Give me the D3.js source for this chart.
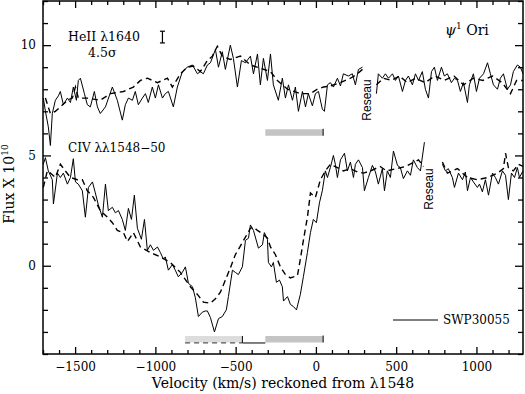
<!DOCTYPE html>
<html>
<head>
<meta charset="utf-8">
<script src="https://cdn.jsdelivr.net/npm/d3@7"></script>
<style>
  body { margin: 0; background: #fff; }
  svg { display: block; }
  .tick text { font-family: "DejaVu Serif", serif; font-size: 12px; fill: #000; }
  .lbl { font-family: "DejaVu Serif", serif; font-size: 12px; fill: #000; }
  .sans { font-family: "Liberation Sans", Arial, sans-serif; font-size: 12px; fill: #000; }
</style>
</head>
<body>
<div id="chart"></div>
<script>

// svg container
var width = 525
var height = 394

var margin = { top: 1, right: 2, bottom: 40, left: 43 };

var chartWidth = width - margin.left - margin.right;
var chartHeight = height - margin.top - margin.bottom;

// axis ranges and tick labels
var xDomain = [-1700, 1290];
var yDomain = [-4, 12];
var xMajor = [-1500, -1000, -500, 0, 500, 1000];
var yMajor = [0, 5, 10];

// spectra as [velocity km/s, flux], null = gap at the reseau mark
var heSolid = [
  [-1698, 7.6], [-1685, 7.0], [-1667, 6.3], [-1654, 5.45], [-1642, 6.9], [-1623, 7.5], [-1604, 7.7],
  [-1592, 7.9], [-1573, 7.3], [-1548, 7.6], [-1529, 7.4], [-1511, 8.1], [-1492, 7.5], [-1480, 8.4],
  [-1467, 8.5], [-1442, 7.8], [-1424, 7.3], [-1405, 7.2], [-1380, 7.9], [-1361, 7.2], [-1343, 6.9],
  [-1311, 7.2], [-1268, 8.1], [-1237, 7.5], [-1206, 6.6], [-1187, 7.3], [-1168, 7.6], [-1143, 7.5],
  [-1125, 7.9], [-1106, 7.3], [-1081, 7.6], [-1062, 7.8], [-1044, 7.4], [-1019, 8.1], [-1000, 7.6],
  [-981, 8.2], [-956, 7.6], [-938, 7.8], [-919, 7.9], [-888, 7.2], [-863, 8.1], [-832, 8.8],
  [-801, 9.0], [-769, 9.1], [-738, 8.7], [-720, 8.8], [-701, 8.7], [-676, 9.1], [-657, 9.2],
  [-626, 9.8], [-607, 9.0], [-583, 9.7], [-564, 8.9], [-533, 10.0], [-514, 9.4], [-489, 8.1],
  [-464, 9.3], [-439, 9.2], [-408, 9.5], [-389, 8.7], [-364, 9.6], [-346, 8.2], [-327, 9.4],
  [-302, 8.4], [-283, 9.6], [-265, 8.2], [-234, 7.5], [-209, 8.5], [-190, 7.6], [-171, 8.2],
  [-146, 7.5], [-128, 8.1], [-109, 7.0], [-84, 7.9], [-65, 7.2], [-47, 7.8], [-22, 7.25],
  [-3, 7.8], [16, 7.9], [40, 7.1], [53, 7.0], [72, 8.2], [90, 8.3], [109, 8.1], [134, 8.5],
  [153, 8.15], [171, 8.7], [202, 8.6], [227, 8.7], [246, 8.2], [265, 8.9], [290, 9.0],
  null,
  [377, 7.8], [389, 8.7], [414, 8.5], [433, 8.7], [452, 8.5], [477, 8.7], [495, 8.4], [514, 8.6],
  [539, 7.9], [558, 8.4], [576, 8.6], [601, 8.2], [620, 8.7], [639, 8.4], [663, 8.8], [682, 8.0],
  [701, 7.6], [720, 8.8], [738, 9.0], [757, 8.4], [782, 9.0], [800, 8.6], [819, 8.7], [844, 8.3],
  [863, 8.5], [882, 8.4], [900, 7.9], [919, 8.3], [944, 7.4], [956, 8.2], [981, 8.7], [1000, 7.9],
  [1019, 8.5], [1044, 8.7], [1069, 9.2], [1087, 8.7], [1106, 8.2], [1131, 8.0], [1149, 8.5],
  [1168, 8.7], [1193, 8.0], [1212, 8.2], [1230, 8.8], [1255, 9.1], [1274, 9.0], [1290, 8.7]
];

var heDashed = [
  [-1685, 7.6], [-1654, 6.9], [-1623, 7.0], [-1592, 7.2], [-1548, 7.5], [-1517, 7.6], [-1498, 8.1],
  [-1480, 7.6], [-1424, 7.6], [-1343, 7.5], [-1280, 7.8], [-1199, 7.9], [-1137, 8.1], [-1093, 8.4],
  [-1050, 8.5], [-987, 8.3], [-925, 8.5], [-894, 8.1], [-844, 8.7], [-801, 9.0], [-763, 9.05],
  [-720, 8.8], [-676, 9.3], [-645, 9.5], [-614, 9.95], [-583, 9.5], [-533, 9.35], [-470, 9.5],
  [-408, 9.1], [-283, 8.8], [-240, 8.4], [-177, 8.0], [-97, 7.8], [-34, 7.8], [9, 8.0], [47, 8.1],
  [90, 8.15], [153, 8.3], [215, 8.5], [259, 8.7], [290, 8.9],
  null,
  [377, 8.2], [420, 8.5], [470, 8.4], [520, 8.6], [570, 8.3], [620, 8.5], [680, 8.3], [740, 8.6],
  [800, 8.4], [860, 8.6], [920, 8.2], [980, 8.5], [1040, 8.4], [1100, 8.6], [1160, 8.3],
  [1212, 7.8], [1250, 8.4], [1290, 8.4]
];

var civSolid = [
  [-1698, 4.6], [-1685, 4.9], [-1667, 4.3], [-1642, 3.9], [-1635, 2.8], [-1610, 4.2], [-1592, 4.0],
  [-1573, 4.2], [-1548, 3.7], [-1529, 4.0], [-1511, 4.85], [-1498, 3.8], [-1480, 3.7], [-1455, 3.4],
  [-1436, 2.2], [-1417, 3.55], [-1392, 3.8], [-1374, 3.3], [-1355, 2.75], [-1330, 2.2], [-1311, 3.7],
  [-1293, 2.5], [-1268, 2.65], [-1249, 2.4], [-1230, 2.5], [-1206, 2.1], [-1187, 1.6], [-1168, 2.6],
  [-1149, 2.1], [-1131, 3.2], [-1112, 1.7], [-1087, 1.2], [-1068, 2.1], [-1050, 0.7], [-1031, 0.95],
  [-1012, 0.7], [-987, 0.85], [-969, 0.6], [-950, 0.3], [-938, 0.4], [-919, -0.2], [-894, 0.05],
  [-876, -0.2], [-857, -0.5], [-832, -0.3], [-813, -0.05], [-794, -0.8], [-769, -0.95], [-751, -1.45],
  [-732, -2.3], [-707, -2.1], [-688, -2.05], [-676, -2.05], [-657, -2.35], [-632, -3.0], [-607, -2.4],
  [-583, -2.3], [-558, -2.0], [-545, -1.4], [-520, -0.2], [-502, -0.3], [-483, -0.4], [-458, -0.05],
  [-439, 1.15], [-420, 1.25], [-408, 1.85], [-389, 1.6], [-358, 0.8], [-333, 0.95], [-321, 1.5],
  [-302, 1.2], [-296, 0.15], [-277, -0.05], [-265, 0.15], [-246, -0.75], [-227, -0.65], [-209, -0.95],
  [-202, -1.6], [-177, -1.4], [-159, -1.75], [-140, -1.85], [-121, -2.0], [-97, -1.3], [-78, -0.5],
  [-53, 0.6], [-34, 1.5], [-16, 2.1], [3, 1.95], [22, 2.85], [40, 3.4], [59, 4.3], [72, 4.0],
  [90, 4.45], [109, 5.0], [121, 4.6], [134, 4.0], [153, 4.8], [178, 5.1], [196, 4.3], [215, 4.7],
  [234, 4.0], [246, 4.6], [265, 4.8], [290, 4.45], [302, 3.4], [327, 4.0], [352, 4.55], [371, 4.25],
  [389, 3.7], [414, 4.4], [427, 3.4], [445, 4.3], [464, 4.0], [483, 5.2], [508, 4.55], [526, 4.45],
  [545, 3.95], [570, 4.3], [589, 4.1], [607, 4.8], [632, 4.45], [651, 4.3], [676, 5.6],
  null,
  [788, 4.6], [807, 4.3], [825, 4.4], [850, 4.0], [863, 3.55], [888, 4.2], [913, 3.9], [931, 4.25],
  [944, 3.4], [963, 4.0], [981, 3.8], [1006, 3.55], [1019, 3.7], [1037, 3.35], [1056, 3.9],
  [1075, 3.2], [1100, 4.2], [1118, 4.0], [1137, 3.7], [1162, 4.3], [1181, 4.1], [1199, 3.0],
  [1218, 4.2], [1237, 4.0], [1255, 4.45], [1268, 4.0], [1290, 4.3]
];

var civDashed = [
  [-1698, 3.55], [-1673, 4.3], [-1654, 4.2], [-1623, 4.0], [-1592, 4.6], [-1561, 4.3], [-1529, 4.0],
  [-1486, 3.9], [-1455, 3.9], [-1424, 3.4], [-1386, 3.1], [-1343, 2.5], [-1299, 2.2], [-1268, 1.95],
  [-1237, 1.6], [-1199, 1.5], [-1174, 1.1], [-1137, 1.5], [-1093, 0.85], [-1031, 0.6], [-969, 0.4],
  [-907, 0.15], [-844, -0.3], [-782, -0.95], [-738, -1.3], [-701, -1.65], [-657, -1.7], [-626, -1.5],
  [-595, -1.2], [-564, -0.65], [-533, -0.1], [-502, 0.5], [-470, 0.9], [-439, 1.3], [-408, 1.7],
  [-389, 1.75], [-364, 1.6], [-333, 1.45], [-302, 1.25], [-283, 0.85], [-252, 0.5], [-221, -0.05],
  [-190, -0.4], [-159, -0.55], [-115, -0.45], [-97, 0.3], [-78, 1.15], [-53, 2.2], [-34, 3.3],
  [-3, 3.1], [28, 3.9], [59, 4.3], [90, 4.6], [134, 4.45], [171, 4.3], [215, 4.4], [259, 4.25],
  [296, 4.2], [340, 4.3], [400, 4.5], [440, 4.3], [500, 4.4], [560, 4.5], [639, 4.8], [670, 4.5],
  null,
  [788, 4.7], [819, 4.2], [882, 4.4], [944, 4.0], [1006, 3.9], [1069, 4.0], [1131, 4.2], [1168, 4.4],
  [1181, 5.1], [1199, 4.45], [1230, 4.3], [1262, 4.6], [1290, 4.5]
];

// velocity intervals marked under the profiles [v0, v1, flux level]
var heBand = [-315, 45, 6.05];
var civBandBlue = [-815, -460, -3.32];
var civBandRed = [-315, 45, -3.32];
var civLink = [-458, -315, -3.5];
var errBar = [-956, 10.1, 10.63];

var svg = d3.select('#chart').append('svg')
    .attr('width', width)
    .attr('height', height);

var chartGroup = svg.append('g')
    .attr('transform', `translate(${margin.left}, ${margin.top})`);

var xScale = d3.scaleLinear().domain(xDomain).range([0, chartWidth]);
var yScale = d3.scaleLinear().domain(yDomain).range([chartHeight, 0]);

var xMinor = d3.range(-1700, 1291, 100).filter(d => xMajor.indexOf(d) < 0);
var yMinor = d3.range(-4, 13, 1).filter(d => yMajor.indexOf(d) < 0);

function styleAxis(g) {
    g.select('.domain').remove();
    g.selectAll('line').attr('stroke', '#000').attr('stroke-width', 1.3);
}

// bottom axis (labels) + minor
chartGroup.append('g')
    .attr('transform', `translate(0, ${chartHeight})`)
    .call(d3.axisBottom(xScale).tickValues(xMajor).tickSizeInner(-7).tickSizeOuter(0).tickPadding(8)
        .tickFormat(d => d3.format('d')(d).replace('-', '\u2212')))
    .call(styleAxis);
chartGroup.append('g')
    .attr('transform', `translate(0, ${chartHeight})`)
    .call(d3.axisBottom(xScale).tickValues(xMinor).tickSizeInner(-4).tickSizeOuter(0).tickFormat(''))
    .call(styleAxis);

// top axis
chartGroup.append('g')
    .call(d3.axisTop(xScale).tickValues(xMajor).tickSizeInner(-7).tickSizeOuter(0).tickFormat(''))
    .call(styleAxis);
chartGroup.append('g')
    .call(d3.axisTop(xScale).tickValues(xMinor).tickSizeInner(-4).tickSizeOuter(0).tickFormat(''))
    .call(styleAxis);

// left axis
chartGroup.append('g')
    .call(d3.axisLeft(yScale).tickValues(yMajor).tickSizeInner(-8).tickSizeOuter(0).tickPadding(7))
    .call(styleAxis);
chartGroup.append('g')
    .call(d3.axisLeft(yScale).tickValues(yMinor).tickSizeInner(-5).tickSizeOuter(0).tickFormat(''))
    .call(styleAxis);

// right axis
chartGroup.append('g')
    .attr('transform', `translate(${chartWidth}, 0)`)
    .call(d3.axisRight(yScale).tickValues(yMajor).tickSizeInner(-8).tickSizeOuter(0).tickFormat(''))
    .call(styleAxis);
chartGroup.append('g')
    .attr('transform', `translate(${chartWidth}, 0)`)
    .call(d3.axisRight(yScale).tickValues(yMinor).tickSizeInner(-5).tickSizeOuter(0).tickFormat(''))
    .call(styleAxis);

// frame
chartGroup.append('rect')
    .attr('width', chartWidth)
    .attr('height', chartHeight)
    .attr('fill', 'none')
    .attr('stroke', '#000')
    .attr('stroke-width', 1.5);

// spectra
var line = d3.line()
    .defined(d => d !== null)
    .x(d => xScale(d[0]))
    .y(d => yScale(d[1]));

var plot = chartGroup.append('g');

[heDashed, civDashed].forEach(function (s) {
    plot.append('path')
        .attr('d', line(s))
        .attr('fill', 'none')
        .attr('stroke', '#000')
        .attr('stroke-width', 1.4)
        .attr('stroke-dasharray', '6,4');
});
[heSolid, civSolid].forEach(function (s) {
    plot.append('path')
        .attr('d', line(s))
        .attr('fill', 'none')
        .attr('stroke', '#000')
        .attr('stroke-width', 1);
});

// interval bars
function band(b, color) {
    plot.append('rect')
        .attr('x', xScale(b[0]))
        .attr('y', yScale(b[2]) - 3)
        .attr('width', xScale(b[1]) - xScale(b[0]))
        .attr('height', 6.5)
        .attr('fill', color);
}
band(heBand, '#c4c4c4');
band(civBandBlue, '#dcdcdc');
band(civBandRed, '#c4c4c4');

function tick(v, f) {
    plot.append('line')
        .attr('x1', xScale(v)).attr('x2', xScale(v))
        .attr('y1', yScale(f) - 3.5).attr('y2', yScale(f) + 3.5)
        .attr('stroke', '#000').attr('stroke-width', 1);
}
tick(heBand[1], heBand[2]);
tick(civBandRed[1], civBandRed[2]);
tick(civLink[0], civBandRed[2] - 0.02);

// dashed line under the blue band, link line to the red band
plot.append('line')
    .attr('x1', xScale(civBandBlue[0])).attr('x2', xScale(civBandBlue[1]))
    .attr('y1', yScale(civLink[2])).attr('y2', yScale(civLink[2]))
    .attr('stroke', '#555').attr('stroke-width', 1.3).attr('stroke-dasharray', '5,4');
plot.append('line')
    .attr('x1', xScale(civLink[0])).attr('x2', xScale(civLink[1]))
    .attr('y1', yScale(civLink[2])).attr('y2', yScale(civLink[2]))
    .attr('stroke', '#000').attr('stroke-width', 1);

// error bar
var ex = xScale(errBar[0]);
plot.append('line')
    .attr('x1', ex).attr('x2', ex)
    .attr('y1', yScale(errBar[1])).attr('y2', yScale(errBar[2]))
    .attr('stroke', '#000').attr('stroke-width', 1.2);
[errBar[1], errBar[2]].forEach(function (f) {
    plot.append('line')
        .attr('x1', ex - 2.5).attr('x2', ex + 2.5)
        .attr('y1', yScale(f)).attr('y2', yScale(f))
        .attr('stroke', '#000').attr('stroke-width', 1.2);
});

// labels
svg.append('text').attr('class', 'lbl').attr('x', 68).attr('y', 41).style('font-size', '12.5px').text('HeII \u03bb1640');
svg.append('text').attr('class', 'lbl').attr('x', 88).attr('y', 57).style('font-size', '12.5px').text('4.5\u03c3');
svg.append('text').attr('class', 'lbl').attr('x', 68).attr('y', 152).text('CIV \u03bb\u03bb1548\u221250');

var psi = svg.append('text').attr('class', 'lbl').attr('x', 445).attr('y', 35).style('font-size', '14px');
psi.append('tspan').style('font-style', 'italic').text('\u03c8');
psi.append('tspan').attr('dy', -6).style('font-size', '9px').text('1');
psi.append('tspan').attr('dy', 6).text(' Ori');

svg.append('text').attr('class', 'sans')
    .attr('transform', 'translate(371, 100) rotate(-90)')
    .attr('text-anchor', 'middle').text('Reseau');
svg.append('text').attr('class', 'sans')
    .attr('transform', 'translate(433, 189) rotate(-90)')
    .attr('text-anchor', 'middle').text('Reseau');

// legend
svg.append('line')
    .attr('x1', 393).attr('x2', 438).attr('y1', 320).attr('y2', 320)
    .attr('stroke', '#000').attr('stroke-width', 1);
svg.append('text').attr('class', 'lbl').attr('x', 443).attr('y', 324).text('SWP30055');

// axis titles
svg.append('text').attr('class', 'lbl')
    .attr('x', 283).attr('y', 388)
    .attr('text-anchor', 'middle')
    .style('font-size', '14px')
    .text('Velocity (km/s) reckoned from \u03bb1548');

var yl = svg.append('text').attr('class', 'lbl')
    .attr('transform', 'translate(14, 184) rotate(-90)')
    .attr('text-anchor', 'middle')
    .style('font-size', '14px');
yl.append('tspan').text('Flux X 10');
yl.append('tspan').attr('dy', -6).style('font-size', '9px').text('10');

</script>
</body>
</html>
